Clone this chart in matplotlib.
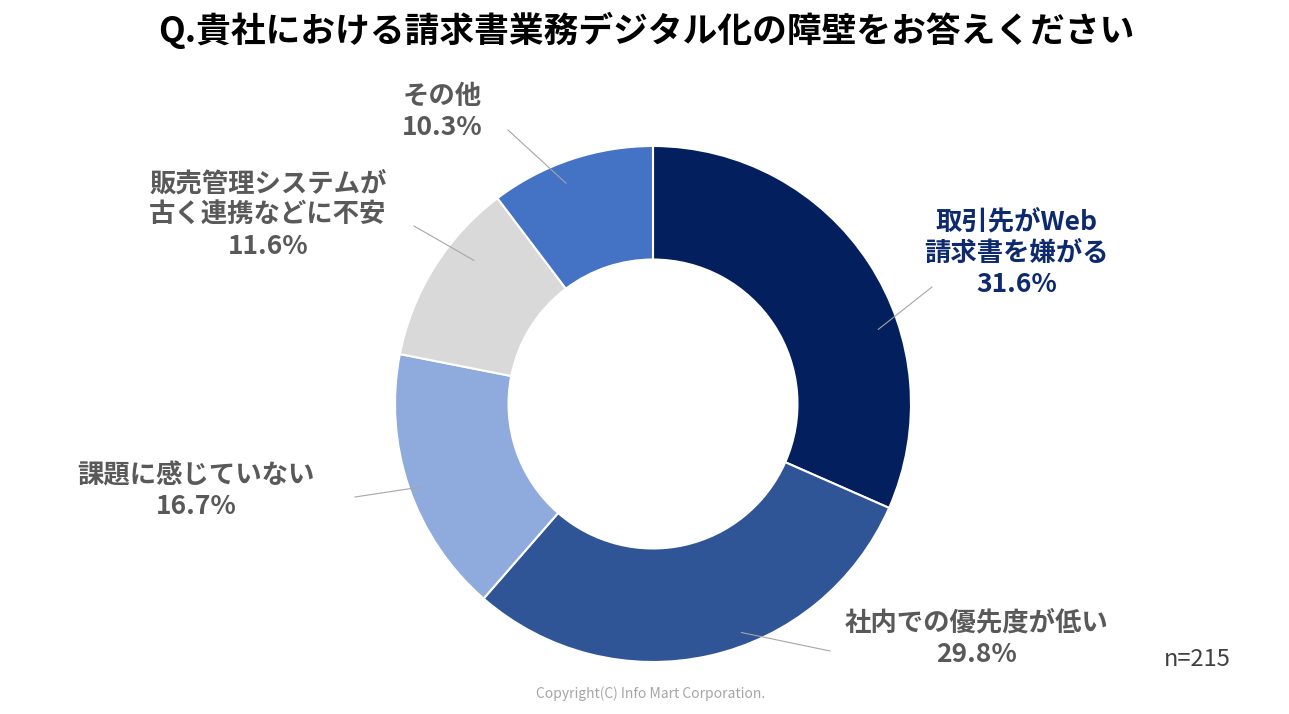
import numpy as np
import matplotlib
matplotlib.use("Agg")
import matplotlib.pyplot as plt

plt.rcParams['font.family'] = ['Noto Sans CJK JP', 'DejaVu Sans']

# data (clockwise from 12 o'clock)
labels = ["取引先がWeb\n請求書を嫌がる", "社内での優先度が低い", "課題に感じていない",
          "販売管理システムが\n古く連携などに不安", "その他"]
values = [31.6, 29.8, 16.7, 11.6, 10.3]
colors = ["#031F5E", "#2F5597", "#8FAADC", "#D9D9D9", "#4472C4"]

title = "Q.貴社における請求書業務デジタル化の障壁をお答えください"
n_text = "n=215"
copyright_text = "Copyright(C) Info Mart Corporation."

# layout in pixel units (y measured from top)
W, H = 1289, 714
cx, cy, R = 653, 404, 258
label_pos = [(1017, 253), (977, 639), (196, 491), (268, 215), (442, 112)]
line_end = [(932, 287), (830, 651), (355, 497), (414, 226), (508, 130)]
# where the leader line touches each wedge: fraction along the arc, fraction of radius
anchor = [(0.63, 0.92), (0.42, 0.95), (0.485, 0.945), (0.66, 0.89), (0.42, 0.92)]
label_colors = ["#0E2A6E", "#595959", "#595959", "#595959", "#595959"]

fig = plt.figure(figsize=(W / 100, H / 100), dpi=100)
ax = fig.add_axes([0, 0, 1, 1])

wedges, _ = ax.pie(values, colors=colors, startangle=90, counterclock=False,
                   center=(cx, H - cy), radius=R,
                   wedgeprops=dict(width=R * 0.44, edgecolor='white', linewidth=1.5))
ax.set_xlim(0, W)
ax.set_ylim(0, H)
ax.set_aspect('equal')
ax.axis('off')

for w, lab, v, (lx, ly), (ex, ey), (fa, fr), c in zip(wedges, labels, values, label_pos,
                                                      line_end, anchor, label_colors):
    # counterclock=False: theta2 is the start, theta1 the end
    ang = np.deg2rad(w.theta2 + fa * (w.theta1 - w.theta2))
    ax_x = cx + fr * R * np.cos(ang)
    ax_y = (H - cy) + fr * R * np.sin(ang)
    ax.plot([ax_x, ex], [ax_y, H - ey], color='#A6A6A6', lw=0.8, zorder=3)
    ax.text(lx, H - ly, f"{lab}\n{v:.1f}%", ha='center', va='center', fontsize=19,
            fontweight='bold', color=c, linespacing=1.2)

ax.text(W / 2 + 2, H - 30, title, ha='center', va='center', fontsize=25,
        fontweight='bold', color='black')
ax.text(1197, H - 659, n_text, ha='center', va='center', fontsize=17, color='#404040')
ax.text(W / 2 + 6, H - 694, copyright_text, ha='center', va='center', fontsize=10,
        color='#A6A6A6')

fig.savefig("out.png", dpi=100)
